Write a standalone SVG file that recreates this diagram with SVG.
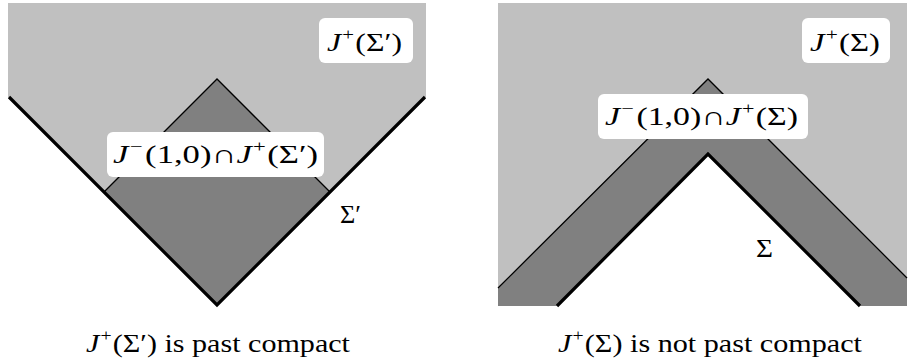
<svg xmlns="http://www.w3.org/2000/svg" width="908" height="364" viewBox="0 0 908 364">
<style>
.light{fill:#c0c0c0}
.dark{fill:#808080}
.thin{fill:none;stroke:#000;stroke-width:1.3}
.thick{fill:none;stroke:#000;stroke-width:3.2}
.box{fill:#fff}
text{font-family:"Liberation Serif","Times New Roman","DejaVu Serif",serif;font-size:26px;fill:#000}
.it{font-style:italic}
.sup{font-size:17px}
</style>
<g id="left-panel">
  <polygon class="light" points="8,3 426,3 426,97 217,306 8,97"/>
  <polygon class="dark" points="217,79 330,192 217,305 104,192"/>
  <polyline class="thin" points="104,192 217,79 330,192"/>
  <polyline class="thick" points="9,97 217,305 425,97"/>
</g>
<g id="right-panel">
  <rect class="light" x="498" y="3" width="409" height="303"/>
  <polygon class="dark" points="498,288 708,79 907,278 907,306 860,306 708,154 557,306 498,306"/>
  <polygon fill="#fff" points="557,306 708,154 860,306"/>
  <polyline class="thin" points="498,288 708,79 907,278"/>
  <polyline class="thick" points="557,306 708,154 860,306"/>
</g>
<g id="label-Jplus-Sigma-prime">
  <rect class="box" x="319" y="18" width="94" height="45" rx="6"/>
  <text x="327" y="51" textLength="75" lengthAdjust="spacingAndGlyphs"><tspan class="it">J</tspan><tspan class="sup" dx="1" dy="-11">+</tspan><tspan dx="1" dy="11">(Σ′)</tspan></text>
</g>
<g id="label-intersection-left">
  <rect class="box" x="107" y="132" width="217" height="45" rx="6"/>
  <text x="113" y="163" textLength="205" lengthAdjust="spacingAndGlyphs"><tspan class="it">J</tspan><tspan class="sup" dx="1" dy="-11">−</tspan><tspan dx="2" dy="11">(1,0)∩</tspan><tspan class="it">J</tspan><tspan class="sup" dx="1" dy="-11">+</tspan><tspan dx="1" dy="11">(Σ′)</tspan></text>
</g>
<g id="label-Sigma-prime">
  <text x="340" y="223" textLength="21" lengthAdjust="spacingAndGlyphs">Σ′</text>
</g>
<g id="label-Jplus-Sigma">
  <rect class="box" x="802" y="18" width="88" height="45" rx="6"/>
  <text x="810" y="51" textLength="70" lengthAdjust="spacingAndGlyphs"><tspan class="it">J</tspan><tspan class="sup" dx="1" dy="-11">+</tspan><tspan dx="1" dy="11">(Σ)</tspan></text>
</g>
<g id="label-intersection-right">
  <rect class="box" x="598" y="94" width="210" height="45" rx="6"/>
  <text x="605" y="125" textLength="193" lengthAdjust="spacingAndGlyphs"><tspan class="it">J</tspan><tspan class="sup" dx="1" dy="-11">−</tspan><tspan dx="2" dy="11">(1,0)∩</tspan><tspan class="it">J</tspan><tspan class="sup" dx="1" dy="-11">+</tspan><tspan dx="1" dy="11">(Σ)</tspan></text>
</g>
<g id="label-Sigma">
  <text x="756" y="257" textLength="17" lengthAdjust="spacingAndGlyphs">Σ</text>
</g>
<g id="caption-left">
  <text x="86" y="352" textLength="264" lengthAdjust="spacingAndGlyphs"><tspan class="it">J</tspan><tspan class="sup" dx="1" dy="-11">+</tspan><tspan dx="1" dy="11">(Σ′) is past compact</tspan></text>
</g>
<g id="caption-right">
  <text x="558" y="352" textLength="304" lengthAdjust="spacingAndGlyphs"><tspan class="it">J</tspan><tspan class="sup" dx="1" dy="-11">+</tspan><tspan dx="1" dy="11">(Σ) is not past compact</tspan></text>
</g>
<g id="connectors"/>
</svg>
